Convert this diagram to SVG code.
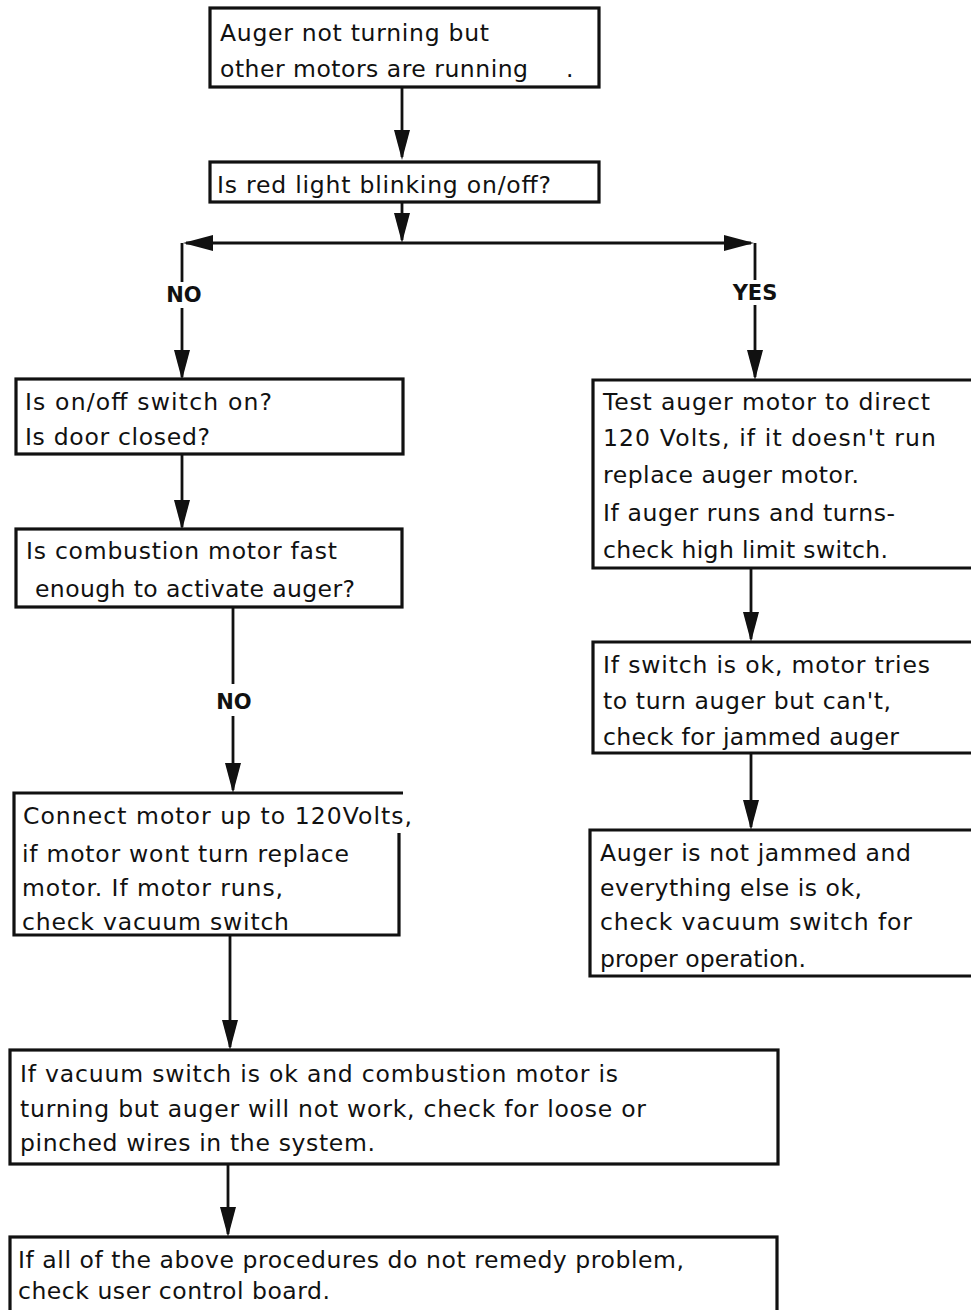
<svg xmlns="http://www.w3.org/2000/svg" width="971" height="1310" viewBox="0 0 971 1310">
<defs>
<style>
.box{fill:none;stroke:#111;stroke-width:3.2}
.con{fill:none;stroke:#111;stroke-width:2.8}
.t{font-family:"DejaVu Sans","Verdana",sans-serif;font-size:23.5px;fill:#111}
.lbl{font-family:"DejaVu Sans","Arial",sans-serif;font-weight:bold;font-size:21px;fill:#111;text-anchor:middle}
</style>
<marker id="ah" viewBox="0 0 30 16" markerWidth="30" markerHeight="16" refX="27" refY="8" orient="auto" markerUnits="userSpaceOnUse">
<path d="M0,0 L30,8 L0,16 Z" fill="#111"/>
</marker>
</defs>
<rect width="971" height="1310" fill="#fff"/>

<g id="connectors">
<path class="con" d="M402,87 V157" marker-end="url(#ah)"/>
<path class="con" d="M402,202 V240" marker-end="url(#ah)"/>
<path class="con" d="M402,243 H186" marker-end="url(#ah)"/>
<path class="con" d="M402,243 H751" marker-end="url(#ah)"/>
<path class="con" d="M182,243 V282"/>
<path class="con" d="M182,308 V377" marker-end="url(#ah)"/>
<path class="con" d="M755,243 V280"/>
<path class="con" d="M755,305 V377" marker-end="url(#ah)"/>
<path class="con" d="M182,454 V527" marker-end="url(#ah)"/>
<path class="con" d="M233,607 V684"/>
<path class="con" d="M233,716 V790" marker-end="url(#ah)"/>
<path class="con" d="M230,935 V1047" marker-end="url(#ah)"/>
<path class="con" d="M228,1164 V1234" marker-end="url(#ah)"/>
<path class="con" d="M751,568 V639" marker-end="url(#ah)"/>
<path class="con" d="M751,753 V827" marker-end="url(#ah)"/>
<text class="lbl" x="184" y="302">NO</text>
<text class="lbl" x="755" y="300">YES</text>
<text class="lbl" x="234" y="709">NO</text>
</g>

<g id="n1">
<rect class="box" x="210" y="8" width="389" height="79"/>
<text class="t" x="220" y="41" textLength="269">Auger not turning but</text>
<text class="t" x="220" y="77"><tspan textLength="308">other motors are running</tspan><tspan x="566">.</tspan></text>
</g>

<g id="n2">
<rect class="box" x="210" y="162" width="389" height="40"/>
<text class="t" x="217" y="193" textLength="334">Is red light blinking on/off?</text>
</g>

<g id="n3">
<rect class="box" x="16" y="379" width="387" height="75"/>
<text class="t" x="25" y="410" textLength="247">Is on/off switch on?</text>
<text class="t" x="25" y="445" textLength="185">Is door closed?</text>
</g>

<g id="n4">
<rect class="box" x="16" y="529" width="386" height="78"/>
<text class="t" x="26" y="559" textLength="311">Is combustion motor fast</text>
<text class="t" x="35" y="597" textLength="320">enough to activate auger?</text>
</g>

<g id="n5">
<path class="box" d="M403,793 H14 V935 H399 V833"/>
<text class="t" x="23" y="824" textLength="389">Connect motor up to 120Volts,</text>
<text class="t" x="22" y="862" textLength="327">if motor wont turn replace</text>
<text class="t" x="22" y="896" textLength="261">motor. If motor runs,</text>
<text class="t" x="22" y="930" textLength="267">check vacuum switch</text>
</g>

<g id="r1">
<path class="box" d="M975,380 H593 V568 H975"/>
<text class="t" x="603" y="410" textLength="327">Test auger motor to direct</text>
<text class="t" x="603" y="446" textLength="333">120 Volts, if it doesn't run</text>
<text class="t" x="603" y="483" textLength="256">replace auger motor.</text>
<text class="t" x="603" y="521" textLength="292">If auger runs and turns-</text>
<text class="t" x="603" y="558" textLength="285">check high limit switch.</text>
</g>

<g id="r2">
<path class="box" d="M975,642 H593 V753 H975"/>
<text class="t" x="603" y="673" textLength="327">If switch is ok, motor tries</text>
<text class="t" x="603" y="709" textLength="288">to turn auger but can't,</text>
<text class="t" x="603" y="745" textLength="296">check for jammed auger</text>
</g>

<g id="r3">
<path class="box" d="M975,830 H590 V976 H975"/>
<text class="t" x="600" y="861" textLength="311">Auger is not jammed and</text>
<text class="t" x="600" y="896" textLength="262">everything else is ok,</text>
<text class="t" x="600" y="930" textLength="312">check vacuum switch for</text>
<text class="t" x="600" y="967" textLength="206">proper operation.</text>
</g>

<g id="n6">
<rect class="box" x="10" y="1050" width="768" height="114"/>
<text class="t" x="20" y="1082" textLength="598">If vacuum switch is ok and combustion motor is</text>
<text class="t" x="20" y="1117" textLength="626">turning but auger will not work, check for loose or</text>
<text class="t" x="20" y="1151" textLength="355">pinched wires in the system.</text>
</g>

<g id="n7">
<rect class="box" x="10" y="1237" width="767" height="75"/>
<text class="t" x="18" y="1268" textLength="666">If all of the above procedures do not remedy problem,</text>
<text class="t" x="18" y="1299" textLength="312">check user control board.</text>
</g>
</svg>
